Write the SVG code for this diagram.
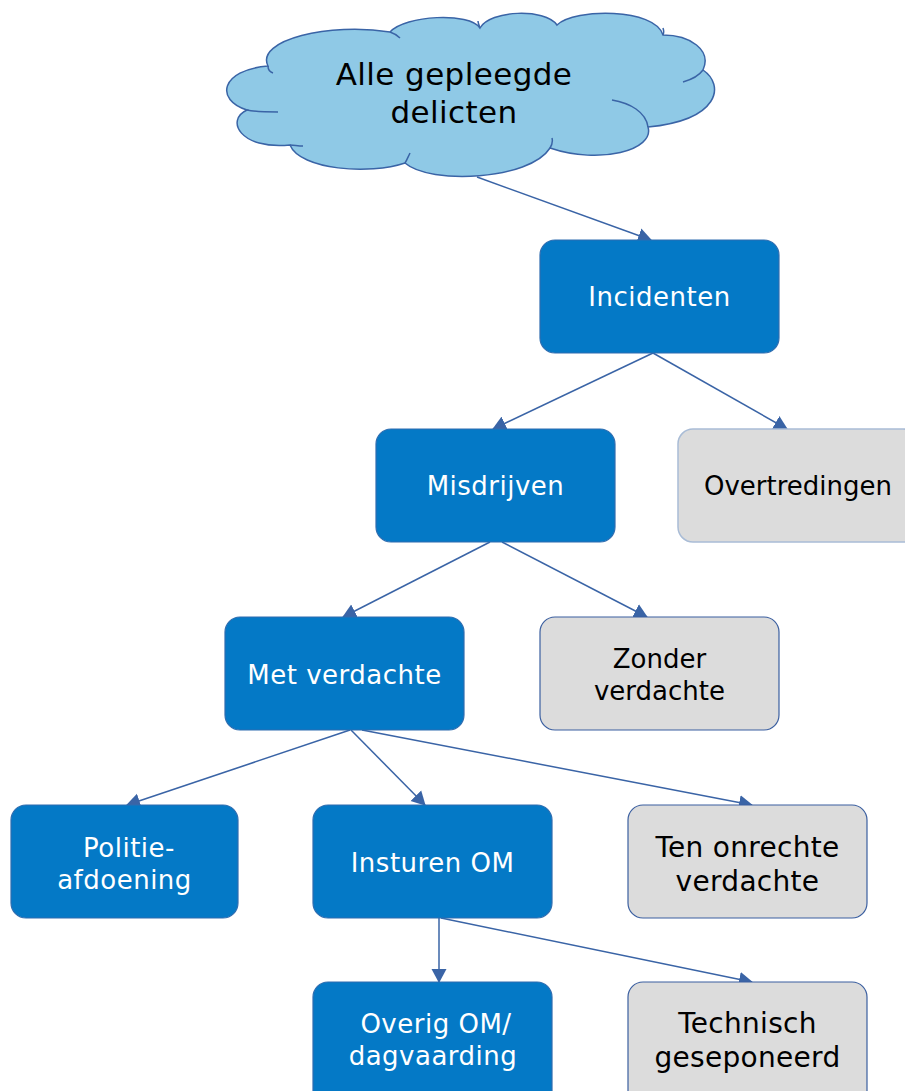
<svg xmlns="http://www.w3.org/2000/svg" width="905" height="1091" viewBox="0 0 905 1091">
<style>
.blue rect{fill:#0479c6;stroke:#2f6db0;stroke-width:1.2}
.grey rect{fill:#dcdcdc;stroke:#3b5fa0;stroke-width:1.2}
.light rect{fill:#dcdcdc;stroke:#a9bcd6;stroke-width:1.5}
text{font-family:"DejaVu Sans","Verdana",sans-serif;text-anchor:middle}
.blue text{fill:#ffffff;font-size:26px;letter-spacing:0.5px}
.grey text,.light text{fill:#000000;font-size:26px}
.grey text.big{font-size:28px;letter-spacing:0.3px}
.cloudtext{font-size:31px;letter-spacing:0.4px;fill:#000000}
.conn line{stroke:#3a64a6;stroke-width:1.5;marker-end:url(#arr)}
</style>
<defs>
<marker id="arr" markerUnits="userSpaceOnUse" markerWidth="14" markerHeight="16" refX="13" refY="7.5" orient="auto" viewBox="0 0 14 15">
<path d="M0,0 L14,7.5 L0,15 z" fill="#3a64a6"/>
</marker>
</defs>
<rect width="905" height="1091" fill="#ffffff"/>
<g id="cloud">
<path d="M268,66 C255,40 330,22 390,32 C405,15 470,12 480,28 C490,10 545,8 557,25 C575,8 655,8 663,35 C690,35 712,50 703,70 C725,85 720,120 648,127 C655,150 600,165 550,148 C530,180 430,185 405,163 C370,175 300,170 290,145 C240,150 225,120 247,110 C215,100 220,70 268,66 Z" fill="#8fc9e6" stroke="#3a64a6" stroke-width="1.5"/>
<path d="M268,66 C268,70 270,72 273,73 M390,32 C393,33 397,35 400,38 M480,28 C479,25 478,23 478,21 M663,35 C664,33 664,31 663,28 M703,70 C698,77 690,80 683,82 M648,127 C646,112 630,103 612,100 M550,148 C552,145 553,142 552,138 M405,163 C407,160 408,157 410,153 M290,145 C294,145 298,146 303,146 M247,110 C255,112 265,112 278,112" fill="none" stroke="#3a64a6" stroke-width="1.5"/>
<text class="cloudtext" x="454" y="85">Alle gepleegde</text>
<text class="cloudtext" x="454" y="123">delicten</text>
</g>
<g id="connectors" class="conn">
<line x1="477" y1="177" x2="651" y2="240"/>
<line x1="653" y1="353" x2="493" y2="429"/>
<line x1="653" y1="353" x2="787" y2="429"/>
<line x1="490" y1="542" x2="343" y2="617"/>
<line x1="502" y1="542" x2="647" y2="617"/>
<line x1="350" y1="730" x2="127" y2="805"/>
<line x1="351" y1="730" x2="425" y2="805"/>
<line x1="362" y1="730" x2="752" y2="805"/>
<line x1="439" y1="918" x2="439" y2="982"/>
<line x1="441" y1="918" x2="752" y2="982"/>
</g>
<g id="incidenten" class="blue"><rect x="540" y="240" width="239" height="113" rx="15"/><text x="659.5" y="306">Incidenten</text></g>
<g id="misdrijven" class="blue"><rect x="376" y="429" width="239" height="113" rx="15"/><text x="495.5" y="495">Misdrijven</text></g>
<g id="overtredingen" class="light"><rect x="678" y="429" width="240" height="113" rx="15"/><text x="798" y="495">Overtredingen</text></g>
<g id="met-verdachte" class="blue"><rect x="225" y="617" width="239" height="113" rx="15"/><text x="344.5" y="684">Met verdachte</text></g>
<g id="zonder-verdachte" class="grey"><rect x="540" y="617" width="239" height="113" rx="15"/><text x="659.5" y="668">Zonder</text><text x="659.5" y="700">verdachte</text></g>
<g id="politie-afdoening" class="blue"><rect x="11" y="805" width="227" height="113" rx="15"/><text x="129" y="857">Politie-</text><text x="124.5" y="889">afdoening</text></g>
<g id="insturen-om" class="blue"><rect x="313" y="805" width="239" height="113" rx="15"/><text x="432.5" y="872">Insturen OM</text></g>
<g id="ten-onrechte-verdachte" class="grey"><rect x="628" y="805" width="239" height="113" rx="15"/><text class="big" x="747.5" y="857">Ten onrechte</text><text class="big" x="747.5" y="891">verdachte</text></g>
<g id="overig-om" class="blue"><rect x="313" y="982" width="239" height="125" rx="15"/><text x="436" y="1033">Overig OM/</text><text x="433" y="1065">dagvaarding</text></g>
<g id="technisch-geseponeerd" class="grey"><rect x="628" y="982" width="239" height="125" rx="15"/><text class="big" x="747.5" y="1033">Technisch</text><text class="big" x="747.5" y="1067">geseponeerd</text></g>
</svg>
